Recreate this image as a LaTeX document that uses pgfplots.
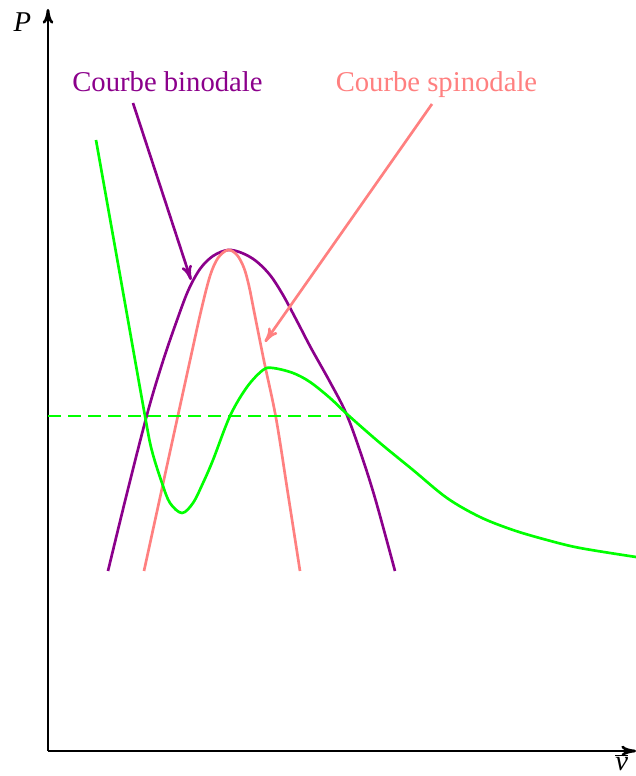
\documentclass[border=0pt]{standalone}
\usepackage{fontspec}
\setmainfont{Liberation Serif}
\usepackage{pgfplots}
\pgfplotsset{compat=1.18}
\usetikzlibrary{arrows.meta}

\definecolor{binod}{RGB}{139,0,139}
\definecolor{spinod}{RGB}{255,128,128}
\definecolor{isoth}{RGB}{0,255,0}

% specific volume: italic v with a bar close above it
\newcommand{\vbar}{\vbox{\hrule height 0.8pt\kern 1.2pt\hbox{\itshape v}}}

\begin{document}
\begin{tikzpicture}[>={To[length=11pt,width=8pt]}]
% page frame: one data unit = 0.75pt
\useasboundingbox (-36pt,-18.75pt) rectangle (441pt,563.25pt);
\begin{axis}[
  x=0.75pt, y=0.75pt,
  xmin=0, xmax=588, ymin=0, ymax=742,
  enlargelimits=false,
  axis lines=left,
  axis line style={line width=2pt, ->},
  xtick=\empty, ytick=\empty,
  clip=false,
  every axis plot/.append style={line width=2pt},
  font=\fontsize{21.5}{25}\selectfont,
]
% binodal curve
\addplot[binod, smooth, tension=0.55] coordinates {
  (60,180) (80,262) (100,340) (115,390) (128,428) (140,460) (152,482)
  (165,495) (180,501) (194,498) (208,490) (222,476) (235,456) (250,428)
  (263,403) (282,369) (298,338) (312,300) (327,253) (347,180)
};
% spinodal curve
\addplot[spinod, smooth, tension=0.55] coordinates {
  (96,180) (120,290) (143,395) (153,440) (162,475) (170,493) (180,501)
  (189,496) (196,483) (201,465) (206,440) (216,390) (228,333) (240,257)
  (252,180)
};
% isotherm
\addplot[isoth, smooth, tension=0.55] coordinates {
  (48,611) (72,476) (97,335) (104,300) (114,268) (122,248) (134,238)
  (145,248) (155,268) (165,291) (182,335) (199,364) (215,381) (225,383)
  (245,378) (262,369) (282,353) (300,336) (332,308) (365,281) (399,253)
  (432,234) (465,221) (499,211) (532,203) (588,194)
};
% saturation pressure
\addplot[isoth, dash pattern=on 9.5pt off 5.5pt] coordinates {(0,335) (300,335)};
% annotation arrows
\addplot[binod, ->] coordinates {(85,648) (143,471)};
\addplot[spinod, ->] coordinates {(384,647) (217,409)};

\node[binod, anchor=base] at (axis cs:119.5,659) {Courbe binodale};
\node[spinod, anchor=base] at (axis cs:388.5,659) {Courbe spinodale};
\node[anchor=base] at (axis cs:-25.5,719) {\textit{P}};
\node[anchor=base west, inner sep=0pt] at (axis cs:567,-19.5) {\vbar};
\end{axis}
\end{tikzpicture}
\end{document}
